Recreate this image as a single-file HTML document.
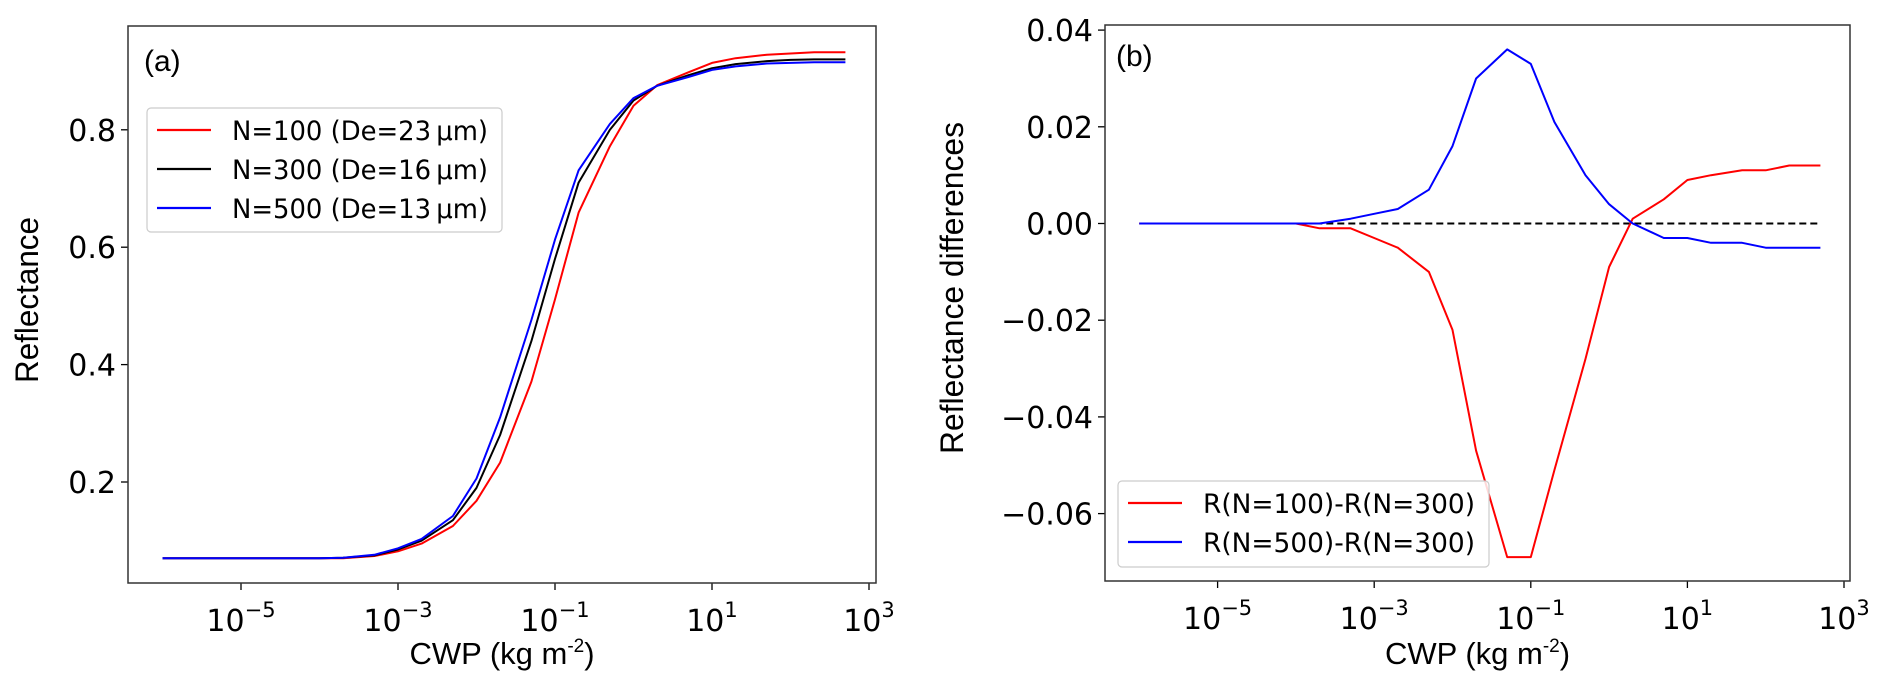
<!DOCTYPE html>
<html><head><meta charset="utf-8"><style>
html,body{margin:0;padding:0;background:#fff;}
svg{display:block;}
text{font-family:"DejaVu Sans","Liberation Sans",sans-serif;fill:#000;}
.lab{font-family:"Liberation Sans",sans-serif;}
</style></head><body>
<svg id="chart" width="1892" height="694" viewBox="0 0 1892 694" xmlns="http://www.w3.org/2000/svg"></svg>
<script>
const cwp = [1e-6,2e-6,5e-6,1e-5,2e-5,5e-5,1e-4,2e-4,5e-4,1e-3,2e-3,5e-3,1e-2,2e-2,5e-2,0.1,0.2,0.5,1,2,5,10,20,50,100,200,500];
const reflN100 = [0.07,0.07,0.07,0.07,0.07,0.07,0.07,0.070,0.074,0.082,0.095,0.125,0.168,0.233,0.371,0.511,0.659,0.772,0.841,0.876,0.898,0.914,0.922,0.928,0.930,0.932,0.932];
const reflN300 = [0.07,0.07,0.07,0.07,0.07,0.07,0.07,0.071,0.075,0.085,0.100,0.135,0.190,0.280,0.440,0.580,0.710,0.800,0.850,0.875,0.893,0.905,0.912,0.917,0.919,0.920,0.920];
const reflN500 = [0.07,0.07,0.07,0.07,0.07,0.07,0.07,0.071,0.076,0.087,0.103,0.142,0.206,0.310,0.476,0.613,0.731,0.810,0.854,0.875,0.890,0.902,0.908,0.913,0.914,0.915,0.915];
const diff100 = [0,0,0,0,0,0,0,-0.001,-0.001,-0.003,-0.005,-0.010,-0.022,-0.047,-0.069,-0.069,-0.051,-0.028,-0.009,0.001,0.005,0.009,0.010,0.011,0.011,0.012,0.012];
const diff500 = [0,0,0,0,0,0,0,0,0.001,0.002,0.003,0.007,0.016,0.030,0.036,0.033,0.021,0.010,0.004,0,-0.003,-0.003,-0.004,-0.004,-0.005,-0.005,-0.005];
const xTickExps = [-5,-3,-1,1,3];
const yTicksA = [0.2,0.4,0.6,0.8];
const yTickLabelsA = ["0.2","0.4","0.6","0.8"];
const yTicksB = [-0.06,-0.04,-0.02,0,0.02,0.04];
const yTickLabelsB = ["\u22120.06","\u22120.04","\u22120.02","0.00","0.02","0.04"];
const legendA = ["N=100 (De=23\u2009\u03bcm)","N=300 (De=16\u2009\u03bcm)","N=500 (De=13\u2009\u03bcm)"];
const legendB = ["R(N=100)-R(N=300)","R(N=500)-R(N=300)"];

const NS="http://www.w3.org/2000/svg";
const svg=document.getElementById('chart');
function mk(tag,attrs,parent){const e=document.createElementNS(NS,tag);for(const k in attrs)e.setAttribute(k,attrs[k]);(parent||svg).appendChild(e);return e;}

function panel(cfg){
  const g=mk('g',{});
  
  
  const xs=v=>cfg.x5+(Math.log10(v)+5)*cfg.dec;
  const ys=v=>cfg.yRef+(cfg.yRefVal-v)*cfg.ppu;
  xTickExps.forEach(e=>{
    const x=cfg.x5+(e+5)*cfg.dec;
    const t=mk('line',{x1:x,x2:x,y1:cfg.bottom,y2:cfg.bottom+7,stroke:'#000','stroke-width':1.3},g);
    
    
    const tx=mk('text',{x:x,y:cfg.bottom+48,'text-anchor':'middle','font-size':30},g);
    
    
    const m=mk('tspan',{},tx);m.textContent='10';
    const s=mk('tspan',{'font-size':21,dy:-14},tx);s.textContent=e<0?'\u2212'+(-e):String(e);
  });
  cfg.yt.forEach((v,i)=>{
    const y=ys(v);
    const t=mk('line',{x1:cfg.left-7,x2:cfg.left,y1:y,y2:y,stroke:'#000','stroke-width':1.3},g);
    
    
    const tx=mk('text',{x:cfg.left-12,y:y+11,'text-anchor':'end','font-size':30},g);
    
    
    tx.textContent=cfg.ytl[i];
  });
  if(cfg.zeroLine){
    const z=mk('line',{x1:xs(cwp[0]),x2:xs(cwp[cwp.length-1]),y1:ys(0),y2:ys(0),stroke:'#000','stroke-width':2,'stroke-dasharray':'7,4'},g);
    
    
  }
  cfg.series.forEach(s=>{
    const d=cwp.map((c,i)=>(i?'L':'M')+xs(c).toFixed(1)+','+ys(s.data[i]).toFixed(1)).join(' ');
    const p=mk('path',{d:d,fill:'none',stroke:s.color,'stroke-width':2,'stroke-linejoin':'round'},g);
    
    
  });
  const fr=mk('rect',{x:cfg.left,y:cfg.top,width:cfg.right-cfg.left,height:cfg.bottom-cfg.top,fill:'none',stroke:'#333','stroke-width':1.5},g);
  
  
  const pl=mk('text',{x:cfg.tagX,y:cfg.tagY,'font-size':30,class:'lab'},g);
  
  
  pl.textContent=cfg.tag;
  const xl=mk('text',{x:(cfg.left+cfg.right)/2,y:664,'text-anchor':'middle','font-size':31,class:'lab'},g);
  
  
  const a=mk('tspan',{},xl);a.textContent='CWP (kg m';
  const b=mk('tspan',{dy:-12,'font-size':19},xl);b.textContent='-2';
  const c=mk('tspan',{dy:12},xl);c.textContent=')';
  const yl=mk('text',{x:0,y:0,'text-anchor':'middle','font-size':32,class:'lab',textLength:cfg.ylLen,lengthAdjust:'spacingAndGlyphs',transform:`translate(${cfg.ylX},${cfg.ylY}) rotate(-90)`},g);
  
  
  yl.textContent=cfg.ylabel;
  const L=cfg.leg;
  const lg=mk('g',{},g);
  
  
  mk('rect',{x:L.x,y:L.y,width:L.w,height:L.h,rx:4,fill:'#fff','fill-opacity':0.85,stroke:'#ccc','stroke-width':1.2},lg);
  L.items.forEach((it,i)=>{
    const y=L.y0+i*L.dy;
    const e=mk('g',{},lg);
    
    
    mk('line',{x1:L.x+10,x2:L.x+64,y1:y,y2:y,stroke:it.color,'stroke-width':2.2},e);
    const t=mk('text',{x:L.x+85,y:y+10,'font-size':27,textLength:L.tl,lengthAdjust:'spacingAndGlyphs'},e);
    t.textContent=it.label;
  });
}

panel({name:'panel-a-reflectance',left:128,right:876,top:26,bottom:583,x5:241,dec:78.5,
  yRef:482,yRefVal:0.2,ppu:587,yt:yTicksA,ytl:yTickLabelsA,tag:'(a)',tagX:144,tagY:71,
  ylabel:'Reflectance',ylX:38,ylY:300,ylLen:166,
  series:[{name:'line-n100',color:'#ff0000',data:reflN100},{name:'line-n300',color:'#000000',data:reflN300},{name:'line-n500',color:'#0000ff',data:reflN500}],
  leg:{x:147,y:108,w:355,h:124,y0:130,dy:39,tl:256,items:[{color:'#ff0000',label:legendA[0]},{color:'#000000',label:legendA[1]},{color:'#0000ff',label:legendA[2]}]}
});
panel({name:'panel-b-differences',left:1105,right:1850,top:25,bottom:581,x5:1217.6,dec:78.3,
  yRef:223.5,yRefVal:0,ppu:4835,yt:yTicksB,ytl:yTickLabelsB,tag:'(b)',tagX:1116,tagY:66,
  ylabel:'Reflectance differences',ylX:963,ylY:288,ylLen:332,zeroLine:true,
  series:[{name:'line-diff-n100',color:'#ff0000',data:diff100},{name:'line-diff-n500',color:'#0000ff',data:diff500}],
  leg:{x:1118,y:481,w:371,h:86,y0:503,dy:39,tl:272,items:[{color:'#ff0000',label:legendB[0]},{color:'#0000ff',label:legendB[1]}]}
});
</script>
</body></html>
